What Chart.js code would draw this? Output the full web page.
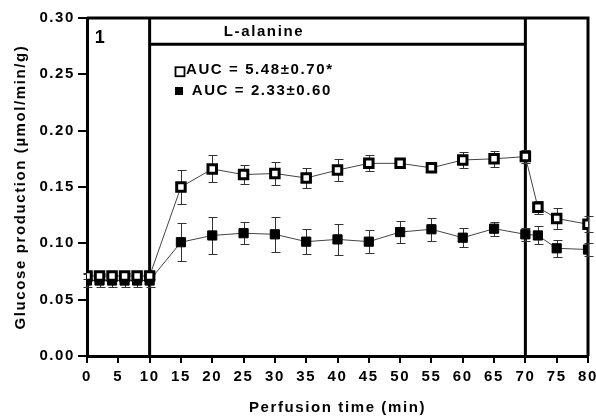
<!DOCTYPE html>
<html><head><meta charset="utf-8">
<script src="https://cdn.jsdelivr.net/npm/chart.js@4/dist/chart.umd.min.js"></script>
<style>html,body{margin:0;padding:0;background:#fff}#wrap{width:596px;height:416px}</style>
</head><body><div id="wrap"><canvas id="c" width="596" height="416"></canvas></div>
<script>
// ---- data ----
const times = [0, 2, 4, 6, 8, 10, 15, 20, 25, 30, 35, 40, 45, 50, 55, 60, 65, 70, 72, 75, 80];
const alanineMean = [0.071, 0.071, 0.071, 0.071, 0.071, 0.071, 0.150, 0.166, 0.161, 0.162, 0.158, 0.165, 0.171, 0.171, 0.167, 0.174, 0.175, 0.177, 0.132, 0.122, 0.117];
const alanineSem  = [0.003, 0.003, 0.003, 0.003, 0.003, 0.003, 0.015, 0.012, 0.0085, 0.010, 0.0085, 0.0095, 0.007, 0.004, 0.004, 0.007, 0.007, 0.006, 0.006, 0.009, 0.007];
const controlMean = [0.067, 0.067, 0.067, 0.067, 0.067, 0.067, 0.101, 0.107, 0.109, 0.108, 0.1015, 0.1035, 0.1015, 0.110, 0.1125, 0.105, 0.113, 0.108, 0.107, 0.0956, 0.0945];
const controlSem  = [0.006, 0.006, 0.006, 0.006, 0.006, 0.006, 0.017, 0.0166, 0.0095, 0.0155, 0.011, 0.014, 0.010, 0.010, 0.010, 0.0086, 0.0063, 0.006, 0.008, 0.0077, 0.006];
const xTickValues = [0, 5, 10, 15, 20, 25, 30, 35, 40, 45, 50, 55, 60, 65, 70, 75, 80];
const yTickValues = [0.00, 0.05, 0.10, 0.15, 0.20, 0.25, 0.30];
const phaseBounds = [10, 70];
const stimulusLabel = 'L-alanine';
const panelLabel = '1';
const legendLabels = ['AUC = 5.48\u00B10.70*', 'AUC = 2.33\u00B10.60'];
const xTitle = 'Perfusion time (min)';
const yTitle = 'Glucose production (\u00B5mol/min/g)';

const FONT = "'Liberation Sans', Arial, Helvetica, sans-serif";
Chart.defaults.font.family = FONT;
Chart.defaults.font.size = 15;
Chart.defaults.font.weight = 'bold';
Chart.defaults.color = '#000';

const toPts = (m) => times.map((t, i) => ({x: t, y: m[i]}));

const overlay = {
  id: 'overlay',
  beforeDraw(chart) { chart.ctx.letterSpacing = '1.6px'; },
  beforeDatasetsDraw(chart) {
    const {ctx, chartArea: a, scales: {x, y}} = chart;
    ctx.save();
    ctx.strokeStyle = '#000';
    ctx.lineWidth = 3;
    ctx.beginPath();
    ctx.moveTo(a.left, a.top); ctx.lineTo(a.right, a.top); ctx.lineTo(a.right, a.bottom);
    ctx.stroke();
    phaseBounds.forEach(v => {
      const px = x.getPixelForValue(v);
      ctx.beginPath(); ctx.moveTo(px, a.top); ctx.lineTo(px, a.bottom); ctx.stroke();
    });
    const by = y.getPixelForValue(0.2767);
    ctx.beginPath();
    ctx.moveTo(x.getPixelForValue(phaseBounds[0]), by);
    ctx.lineTo(x.getPixelForValue(phaseBounds[1]), by);
    ctx.stroke();
    // error bars
    ctx.lineWidth = 1;
    ctx.strokeStyle = '#333';
    [[alanineMean, alanineSem], [controlMean, controlSem]].forEach(([m, e]) => {
      times.forEach((t, i) => {
        const px = Math.round(x.getPixelForValue(t)) + 0.5;
        const y1 = Math.round(y.getPixelForValue(m[i] + e[i])) + 0.5;
        const y2 = Math.round(y.getPixelForValue(m[i] - e[i])) + 0.5;
        ctx.beginPath();
        ctx.moveTo(px, y1); ctx.lineTo(px, y2);
        ctx.moveTo(px - 4, y1); ctx.lineTo(px + 5, y1);
        ctx.moveTo(px - 4, y2); ctx.lineTo(px + 5, y2);
        ctx.stroke();
      });
    });
    ctx.restore();
  },
  afterDatasetsDraw(chart) {
    const {ctx, scales: {x, y}} = chart;
    ctx.save();
    ctx.fillStyle = '#000';
    ctx.textBaseline = 'middle';
    ctx.font = 'bold 18px ' + FONT;
    ctx.textAlign = 'center';
    ctx.fillText(panelLabel, x.getPixelForValue(2.16), y.getPixelForValue(0.2822));
    ctx.font = 'bold 15px ' + FONT;
    ctx.fillText(stimulusLabel, x.getPixelForValue(28.26), y.getPixelForValue(0.2878));
    ctx.textAlign = 'left';
    ctx.fillText(legendLabels[0], x.getPixelForValue(15.8), y.getPixelForValue(0.2538));
    ctx.fillText(legendLabels[1], x.getPixelForValue(16.72), y.getPixelForValue(0.2352));
    // legend markers
    const s1x = x.getPixelForValue(14.85), s1y = y.getPixelForValue(0.2523);
    ctx.lineWidth = 1.8;
    ctx.strokeStyle = '#000';
    ctx.fillStyle = '#fff';
    ctx.fillRect(s1x - 4.5, s1y - 4.5, 9, 9);
    ctx.strokeRect(s1x - 4.5, s1y - 4.5, 9, 9);
    const s2x = x.getPixelForValue(14.69), s2y = y.getPixelForValue(0.2352);
    ctx.fillStyle = '#000';
    ctx.fillRect(s2x - 4, s2y - 4, 8, 8);
    ctx.restore();
  }
};

new Chart(document.getElementById('c'), {
  type: 'line',
  data: {
    datasets: [
      {
        label: legendLabels[0], data: toPts(alanineMean),
        borderColor: '#444', borderWidth: 1, tension: 0, fill: false,
        pointStyle: 'rect', pointRadius: 6, pointBorderWidth: 3,
        pointBorderColor: '#000', pointBackgroundColor: '#fff'
      },
      {
        label: legendLabels[1], data: toPts(controlMean),
        borderColor: '#444', borderWidth: 1, tension: 0, fill: false,
        pointStyle: 'rect', pointRadius: 6.5, pointBorderWidth: 1,
        pointBorderColor: '#000', pointBackgroundColor: '#000'
      }
    ]
  },
  options: {
    responsive: false, animation: false, devicePixelRatio: 1,
    layout: {autoPadding: false, padding: {left: 0, top: 18, right: 8, bottom: 0}},
    plugins: {legend: {display: false}, tooltip: {enabled: false}},
    scales: {
      x: {
        type: 'linear', min: 0, max: 80,
        afterBuildTicks(s) { s.ticks = xTickValues.map(v => ({value: v})); },
        afterFit(s) { s.height = 60; s.paddingLeft = 0; s.paddingRight = 0; },
        ticks: {autoSkip: false, maxRotation: 0, padding: 5, callback: v => String(v)},
        grid: {drawOnChartArea: false, drawTicks: true, tickLength: 7, color: '#000', lineWidth: 2},
        border: {color: '#000', width: 3},
        title: {display: true, text: xTitle, padding: {top: 0, bottom: -1}}
      },
      y: {
        min: 0, max: 0.3,
        afterBuildTicks(s) { s.ticks = yTickValues.map(v => ({value: v})); },
        afterFit(s) { s.width = 87; s.paddingTop = 0; s.paddingBottom = 0; },
        ticks: {autoSkip: false, padding: 3, callback: v => Number(v).toFixed(2)},
        grid: {drawOnChartArea: false, drawTicks: true, tickLength: 9, color: '#000', lineWidth: 2},
        border: {color: '#000', width: 3},
        title: {display: true, text: yTitle, padding: {top: 12, bottom: 0}}
      }
    }
  },
  plugins: [overlay]
});
</script>
</body></html>
